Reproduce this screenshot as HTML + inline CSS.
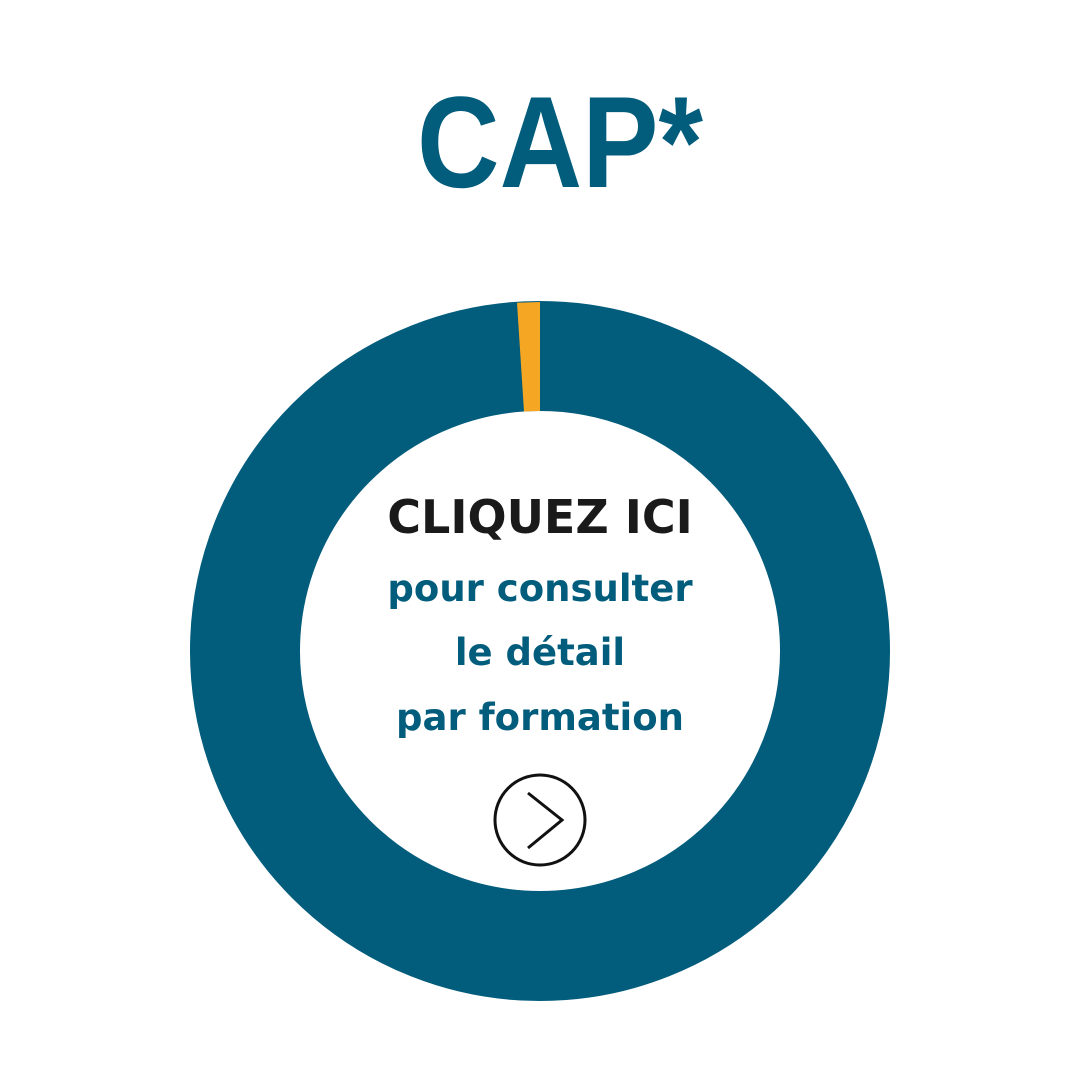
<!DOCTYPE html>
<html><head><meta charset="utf-8"><style>
body{margin:0;width:1080px;height:1080px;background:#fff;overflow:hidden;position:relative;font-family:"DejaVu Sans","Liberation Sans",sans-serif;}
.t{position:absolute;left:0;width:1080px;text-align:center;font-weight:bold;white-space:nowrap;}
</style></head><body>
<div class="t" style="top:72px;font-size:130px;color:#025c7c;font-family:'Liberation Sans',sans-serif;line-height:140px;left:20px;transform:scaleX(0.88);transform-origin:540px 0;">CAP*</div>
<svg width="1080" height="1080" style="position:absolute;left:0;top:0">
<circle cx="540" cy="651" r="295" fill="none" stroke="#025c7c" stroke-width="110"/>
<path d="M540 302 L540 411 L524 411.5 L517 302.8 Z" fill="#f5a623"/>
<circle cx="540" cy="820" r="45" fill="#fff" stroke="#111" stroke-width="3"/>
<polyline points="528,793 562,820 528,848" fill="none" stroke="#111" stroke-width="3"/>
</svg>
<div class="t" style="top:487px;font-size:46px;color:#1a1a1a;line-height:60px;">CLIQUEZ ICI</div>
<div class="t" style="top:564px;font-size:37px;color:#025c7c;line-height:50px;">pour consulter</div>
<div class="t" style="top:628px;font-size:37px;color:#025c7c;line-height:50px;">le détail</div>
<div class="t" style="top:693px;font-size:37px;color:#025c7c;line-height:50px;">par formation</div>
</body></html>
